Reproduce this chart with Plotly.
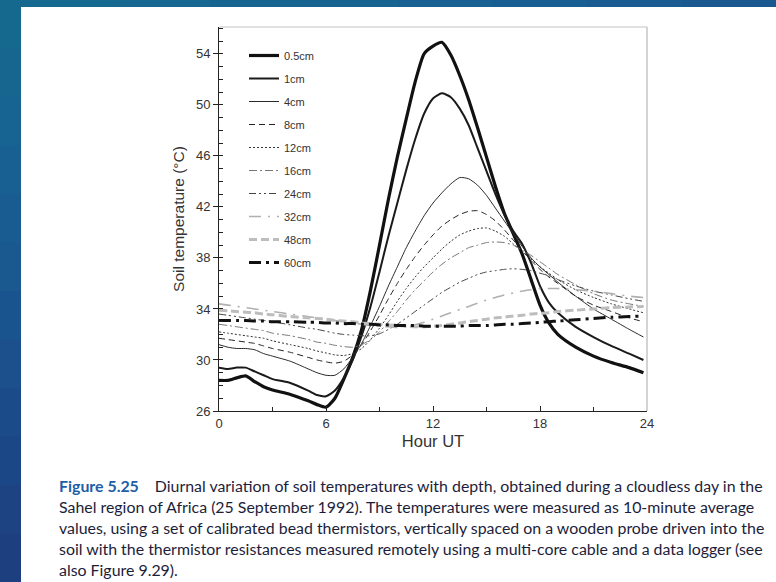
import plotly.graph_objects as go

# ---------------- data ----------------
HOURS = [0, 0.5, 1, 1.5, 2, 2.5, 3, 4, 5, 5.5, 6, 6.5, 7, 7.5, 8, 8.5, 9, 9.5, 10, 10.5,
         11, 11.5, 12, 12.5, 13, 13.5, 14, 14.5, 15, 15.5, 16, 16.5, 17, 17.5, 18, 18.5,
         19, 20, 21, 22, 23, 23.8]

T_05CM = [28.4, 28.4, 28.6, 28.75, 28.3, 27.9, 27.65, 27.3, 26.8, 26.5, 26.3, 27.0, 28.5, 30.2,
          32.4, 35.5, 39.0, 42.6, 45.9, 48.9, 51.8, 54.0, 54.6, 54.9, 53.9, 52.3, 50.4, 48.2,
          45.9, 43.6, 41.5, 39.9, 38.3, 36.3, 34.3, 32.9, 32.0, 31.0, 30.3, 29.8, 29.4, 29.0]
T_1CM = [29.4, 29.3, 29.4, 29.4, 29.1, 28.8, 28.5, 28.2, 27.6, 27.25, 27.15, 27.6, 28.6, 30.0,
         31.9, 34.2, 36.9, 39.7, 42.3, 44.9, 47.3, 49.3, 50.5, 50.9, 50.6, 49.7, 48.4, 46.6,
         44.8, 43.0, 41.4, 40.1, 39.1, 37.6, 35.8, 34.5, 33.7, 32.6, 31.8, 31.1, 30.5, 30.0]
T_4CM = [31.2, 31.0, 30.9, 30.9, 30.8, 30.5, 30.3, 29.9, 29.3, 29.0, 28.8, 28.8, 29.3, 30.2,
         31.3, 32.7, 34.2, 35.8, 37.3, 38.8, 40.1, 41.3, 42.3, 43.1, 43.8, 44.3, 44.2, 43.7,
         42.9, 41.9, 40.9, 39.9, 38.9, 38.0, 37.3, 36.7, 36.1, 35.0, 34.0, 33.2, 32.4, 31.8]
T_8CM = [31.7, 31.6, 31.5, 31.4, 31.3, 31.1, 30.9, 30.6, 30.2, 30.0, 29.85, 29.75, 29.9, 30.4,
         31.2, 32.3, 33.5, 34.8, 36.0, 37.1, 38.1, 39.0, 39.8, 40.5, 41.0, 41.4, 41.65, 41.7,
         41.4, 40.9, 40.2, 39.4, 38.6, 37.8, 37.1, 36.5, 36.0, 35.0, 34.3, 33.8, 33.3, 33.0]
T_12CM = [32.2, 32.1, 32.0, 31.9, 31.8, 31.7, 31.5, 31.2, 30.9, 30.7, 30.55, 30.4, 30.35, 30.5,
          30.9, 31.6, 32.5, 33.5, 34.6, 35.6, 36.5, 37.3, 38.0, 38.7, 39.3, 39.8, 40.1, 40.3,
          40.35, 40.1, 39.7, 39.1, 38.5, 37.9, 37.3, 36.8, 36.3, 35.5, 34.9, 34.4, 34.0, 33.7]
T_16CM = [32.8, 32.7, 32.6, 32.5, 32.4, 32.3, 32.1, 31.9, 31.6, 31.4, 31.3, 31.15, 31.05, 31.0,
          31.2, 31.6, 32.2, 33.0, 33.8, 34.7, 35.5, 36.2, 36.9, 37.5, 38.0, 38.4, 38.8, 39.0,
          39.2, 39.25, 39.2, 39.0, 38.6, 38.2, 37.7, 37.2, 36.7, 35.9, 35.2, 34.7, 34.4, 34.2]
T_24CM = [33.6, 33.5, 33.4, 33.3, 33.2, 33.1, 33.0, 32.75, 32.5, 32.4, 32.25, 32.1, 32.0, 31.95,
          31.9, 31.9, 32.05, 32.4, 32.8, 33.3, 33.8, 34.3, 34.8, 35.3, 35.7, 36.1, 36.4, 36.7,
          36.9, 37.0, 37.1, 37.15, 37.1, 37.0, 36.8, 36.6, 36.3, 35.8, 35.4, 35.1, 34.8, 34.6]
T_32CM = [34.4, 34.3, 34.2, 34.1, 34.0, 33.9, 33.8, 33.6, 33.4, 33.3, 33.2, 33.1, 33.0, 32.9,
          32.8, 32.7, 32.65, 32.6, 32.55, 32.6, 32.75, 32.95, 33.2, 33.45, 33.7, 33.95, 34.2, 34.45,
          34.7, 34.9, 35.1, 35.25, 35.4, 35.5, 35.6, 35.6, 35.6, 35.5, 35.4, 35.2, 35.0, 34.9]
T_48CM = [33.9, 33.85, 33.8, 33.75, 33.7, 33.6, 33.55, 33.4, 33.3, 33.25, 33.2, 33.1, 33.05, 33.0,
          32.9, 32.85, 32.8, 32.75, 32.7, 32.65, 32.6, 32.6, 32.65, 32.7, 32.8, 32.9, 33.0, 33.1,
          33.2, 33.3, 33.35, 33.45, 33.5, 33.6, 33.65, 33.7, 33.8, 33.9, 34.0, 34.1, 34.15, 34.2]
T_60CM = [33.1, 33.1, 33.1, 33.1, 33.05, 33.05, 33.0, 33.0, 32.95, 32.95, 32.9, 32.9, 32.85, 32.85,
          32.8, 32.8, 32.75, 32.75, 32.7, 32.7, 32.7, 32.65, 32.65, 32.65, 32.65, 32.65, 32.7, 32.7,
          32.7, 32.75, 32.8, 32.8, 32.85, 32.9, 32.95, 33.0, 33.05, 33.15, 33.25, 33.35, 33.4, 33.45]

DEPTH_LABELS = ["0.5cm", "1cm", "4cm", "8cm", "12cm", "16cm", "24cm", "32cm", "48cm", "60cm"]
SERIES = [T_05CM, T_1CM, T_4CM, T_8CM, T_12CM, T_16CM, T_24CM, T_32CM, T_48CM, T_60CM]

X_TICKS = [0, 6, 12, 18, 24]
Y_TICKS = [26, 30, 34, 38, 42, 46, 50, 54]

CAPTION_LINES = [
    "<b><span style='color:#1e5ea6'>Figure 5.25</span></b>\u2003 Diurnal variation of soil temperatures with depth, obtained during a cloudless day in the",
    "Sahel region of Africa (25 September 1992). The temperatures were measured as 10-minute average",
    "values, using a set of calibrated bead thermistors, vertically spaced on a wooden probe driven into the",
    "soil with the thermistor resistances measured remotely using a multi-core cable and a data logger (see",
    "also Figure 9.29).",
]

# ---------------- styles ----------------
STYLES = [
    dict(color="#111111", width=3.2, dash="solid"),
    dict(color="#1a1a1a", width=2.0, dash="solid"),
    dict(color="#2a2a2a", width=1.0, dash="solid"),
    dict(color="#222222", width=1.0, dash="6px,4px"),
    dict(color="#333333", width=1.0, dash="2px,2px"),
    dict(color="#777777", width=1.0, dash="8px,3px,2px,3px"),
    dict(color="#444444", width=1.0, dash="7px,3px,2px,3px,2px,3px"),
    dict(color="#b0b0b0", width=1.6, dash="12px,7px,2px,7px"),
    dict(color="#bdbdbd", width=3.0, dash="8px,4px"),
    dict(color="#111111", width=3.0, dash="12px,5px,3px,5px"),
]

W, H = 776, 582
L, R, T, B = 219, 647, 27, 411


def px2x(px):
    return (px - L) / (R - L)


def px2y(py):
    return (B - py) / (B - T)


fig = go.Figure()
for name, vals, st in zip(DEPTH_LABELS, SERIES, STYLES):
    fig.add_trace(go.Scatter(
        x=HOURS, y=vals, mode="lines", name=name, legendgroup=name,
        line=dict(color=st["color"], width=st["width"], dash=st["dash"],
                  shape="spline", smoothing=0.6),
        hoverinfo="skip",
    ))

shapes = []
# slide background (blue strips)
left_cols = ["#15698f", "#166690", "#176391", "#186091", "#195c91", "#1a5890",
             "#1a548e", "#1b508c", "#1c4b89", "#1c4786", "#1d4383", "#1d3f80"]
n = len(left_cols)
for i, c in enumerate(left_cols):
    y0 = i * H / n
    y1 = (i + 1) * H / n + 1
    shapes.append(dict(type="rect", xref="paper", yref="paper",
                       x0=px2x(0), x1=px2x(21), y0=px2y(y1), y1=px2y(y0),
                       fillcolor=c, line=dict(width=0), layer="below"))
top_cols = ["#15698f", "#166890", "#166590", "#176391", "#186192", "#195e92", "#1a5b91", "#1a5990"]
m = len(top_cols)
for i, c in enumerate(top_cols):
    x0 = 21 + i * (W - 21) / m
    x1 = 21 + (i + 1) * (W - 21) / m + 1
    shapes.append(dict(type="rect", xref="paper", yref="paper",
                       x0=px2x(x0), x1=px2x(x1), y0=px2y(7), y1=px2y(0),
                       fillcolor=c, line=dict(width=0), layer="below"))
# light grey top/right frame
shapes.append(dict(type="line", xref="paper", yref="paper", x0=0, x1=1, y0=1, y1=1,
                   line=dict(color="#c4c4c4", width=1.2)))
shapes.append(dict(type="line", xref="paper", yref="paper", x0=1, x1=1, y0=0, y1=1,
                   line=dict(color="#c4c4c4", width=1.5)))

annotations = []
for i, line in enumerate(CAPTION_LINES):
    annotations.append(dict(
        text=line, xref="paper", yref="paper", x=px2x(57), y=px2y(485 + i * 21.2),
        xanchor="left", yanchor="middle", showarrow=False,
        font=dict(family="Lato, Open Sans, sans-serif", size=15.9, color="#1c1d3a"),
    ))

fig.update_layout(
    width=W, height=H,
    margin=dict(l=L, r=W - R, t=T, b=H - B, autoexpand=False),
    paper_bgcolor="white", plot_bgcolor="white",
    font=dict(family="Liberation Sans, Arial, sans-serif", color="#333333"),
    showlegend=True,
    legend=dict(x=px2x(244), y=px2y(41), xanchor="left", yanchor="top",
                bgcolor="rgba(0,0,0,0)", font=dict(size=11, color="#333333"),
                tracegroupgap=4, itemwidth=30, itemclick=False),
    shapes=shapes,
    annotations=annotations,
    xaxis=dict(range=[0, 24], tickvals=X_TICKS, ticks="inside", ticklen=5,
               tickcolor="#222", showline=True, linecolor="#222", linewidth=1,
               showgrid=False, zeroline=False, tickfont=dict(size=13, color="#333"),
               minor=dict(dtick=3, ticks="inside", ticklen=4, tickcolor="#222"),
               title=dict(text="Hour UT", font=dict(size=16.5, color="#333"), standoff=5)),
    yaxis=dict(range=[26, 56.1], tickvals=Y_TICKS, ticks="outside", ticklen=5,
               tickcolor="#222", showline=True, linecolor="#222", linewidth=1,
               showgrid=False, zeroline=False, tickfont=dict(size=13, color="#333"),
               minor=dict(dtick=1, ticks="inside", ticklen=4, tickcolor="#222"),
               title=dict(text="Soil temperature (°C)", font=dict(size=15.5, color="#333"),
                          standoff=7)),
)

fig.write_html("out.html")
